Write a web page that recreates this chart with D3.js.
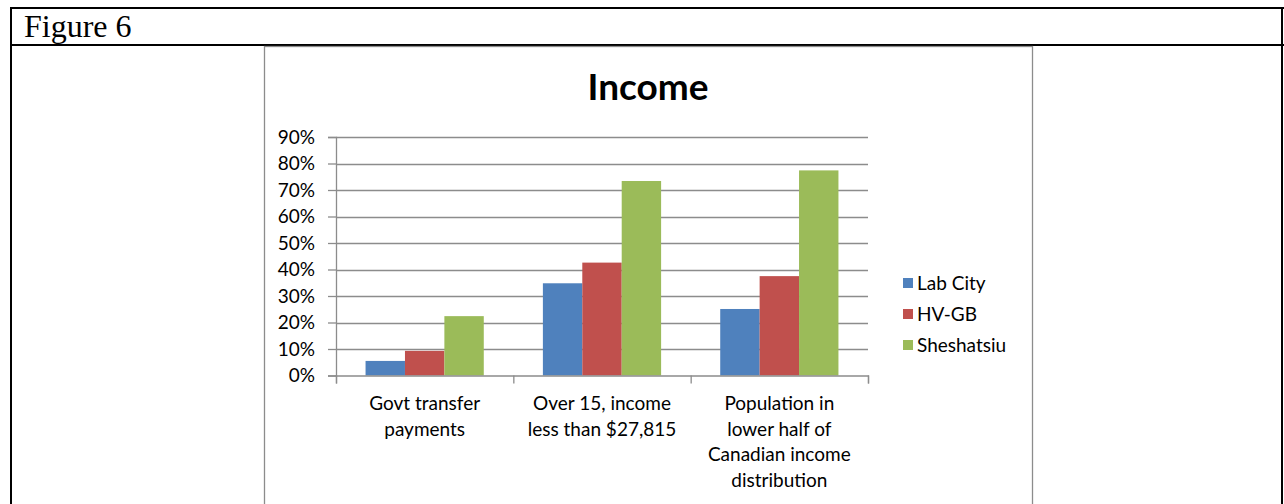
<!DOCTYPE html>
<html>
<head>
<meta charset="utf-8">
<script src="https://cdn.jsdelivr.net/npm/d3@7"></script>
<style>
  body { margin: 0; background: #fff; }
  svg { display: block; }
</style>
</head>
<body>
<div id="viz"></div>
<script>
// data
let categories = [
  ['Govt transfer', 'payments'],
  ['Over 15, income', 'less than $27,815'],
  ['Population in', 'lower half of', 'Canadian income', 'distribution']
];
let series = ['Lab City', 'HV-GB', 'Sheshatsiu'];
let labCity = [0.055, 0.348, 0.251];
let hvgb = [0.093, 0.426, 0.375];
let sheshatsiu = [0.224, 0.734, 0.774];
let yTicks = [0, 0.1, 0.2, 0.3, 0.4, 0.5, 0.6, 0.7, 0.8, 0.9];
let colors = ['#4F81BD', '#C0504D', '#9BBB59'];

let values = [labCity, hvgb, sheshatsiu];

let W = 1284, H = 504,
    plot = { left: 336, right: 868, top: 137, bottom: 375.5 };

let svg = d3.select('#viz').append('svg')
  .attr('width', W)
  .attr('height', H);

// word table frame
let frame = svg.append('g').attr('stroke', '#000').attr('stroke-width', 2);
frame.append('line').attr('x1', 10).attr('x2', 1284).attr('y1', 8).attr('y2', 8);
frame.append('line').attr('x1', 10).attr('x2', 1284).attr('y1', 45).attr('y2', 45);
frame.append('line').attr('x1', 11).attr('x2', 11).attr('y1', 7).attr('y2', H);
frame.append('line').attr('x1', 1282).attr('x2', 1282).attr('y1', 7).attr('y2', H);

svg.append('text')
  .attr('x', 24)
  .attr('y', 37)
  .style('font-family', '"Liberation Serif", "Times New Roman", serif')
  .style('font-size', '32px')
  .text('Figure 6');

// chart border
svg.append('rect')
  .attr('x', 264.5)
  .attr('y', 46.5)
  .attr('width', 768)
  .attr('height', 470)
  .attr('fill', 'none')
  .attr('stroke', '#8c8c8c')
  .attr('stroke-width', 1.3);

svg.append('text')
  .attr('x', 648)
  .attr('y', 100)
  .attr('text-anchor', 'middle')
  .style('font-family', 'Lato, "Open Sans", sans-serif')
  .style('font-weight', 'bold')
  .style('font-size', '37px')
  .text('Income');

let yScale = d3.scaleLinear()
  .domain([0, 0.9])
  .range([plot.bottom, plot.top]);

let x0 = d3.scaleBand()
  .domain(d3.range(categories.length))
  .range([plot.left, plot.right])
  .paddingInner(0)
  .paddingOuter(0);

let x1 = d3.scaleBand()
  .domain(d3.range(series.length))
  .range([0, x0.bandwidth()])
  .paddingInner(0)
  .paddingOuter(0.75);

let xEdge = d3.scaleLinear()
  .domain([0, categories.length])
  .range([plot.left, plot.right]);

// gridlines
svg.append('g')
  .selectAll('line').data(yTicks.slice(1))
  .enter().append('line')
  .attr('x1', plot.left)
  .attr('x2', plot.right)
  .attr('y1', function(d) { return Math.round(yScale(d)) + 0.5; })
  .attr('y2', function(d) { return Math.round(yScale(d)) + 0.5; })
  .attr('stroke', '#8c8c8c')
  .attr('stroke-width', 1.3);

// bars
for (let s = 0; s < series.length; s++) {
  svg.append('g')
    .selectAll('rect').data(values[s])
    .enter().append('rect')
    .attr('x', function(d, i) { return x0(i) + x1(s); })
    .attr('width', x1.bandwidth())
    .attr('y', function(d) { return yScale(d); })
    .attr('height', function(d) { return plot.bottom - yScale(d); })
    .attr('fill', colors[s]);
}

// y axis
let yGuide = svg.append('g')
  .attr('transform', 'translate(' + plot.left + ',0)')
  .call(d3.axisLeft(yScale)
    .tickValues(yTicks)
    .tickSize(8)
    .tickPadding(13)
    .tickFormat(d3.format('.0%')));

// x axis
let xGuide = svg.append('g')
  .attr('transform', 'translate(0,' + plot.bottom + ')')
  .call(d3.axisBottom(xEdge)
    .tickValues(d3.range(categories.length + 1))
    .tickSize(8)
    .tickFormat(''));

[yGuide, xGuide].forEach(function(g) {
  g.select('.domain').attr('stroke', '#8c8c8c').attr('stroke-width', 1.3);
  g.selectAll('.tick line').attr('stroke', '#8c8c8c').attr('stroke-width', 1.3);
});
yGuide.selectAll('.tick text')
  .style('font-family', 'Lato, "Open Sans", sans-serif')
  .style('font-size', '19px')
  .attr('fill', '#000');

// category labels
svg.append('g')
  .selectAll('text').data(categories)
  .enter().append('text')
  .attr('text-anchor', 'middle')
  .style('font-family', 'Lato, "Open Sans", sans-serif')
  .style('font-size', '19px')
  .each(function(lines, i) {
    let t = d3.select(this);
    lines.forEach(function(line, j) {
      t.append('tspan')
        .attr('x', x0(i) + x0.bandwidth() / 2)
        .attr('y', 410 + j * 25.5)
        .text(line);
    });
  });

// legend
let legend = svg.append('g')
  .selectAll('g').data(series)
  .enter().append('g')
  .attr('transform', function(d, i) { return 'translate(903,' + (283 + i * 31) + ')'; });

legend.append('rect')
  .attr('x', 0)
  .attr('y', -5)
  .attr('width', 10)
  .attr('height', 10)
  .attr('fill', function(d, i) { return colors[i]; });

legend.append('text')
  .attr('x', 14)
  .attr('y', 6.5)
  .style('font-family', 'Lato, "Open Sans", sans-serif')
  .style('font-size', '19px')
  .text(function(d) { return d; });
</script>
</body>
</html>
